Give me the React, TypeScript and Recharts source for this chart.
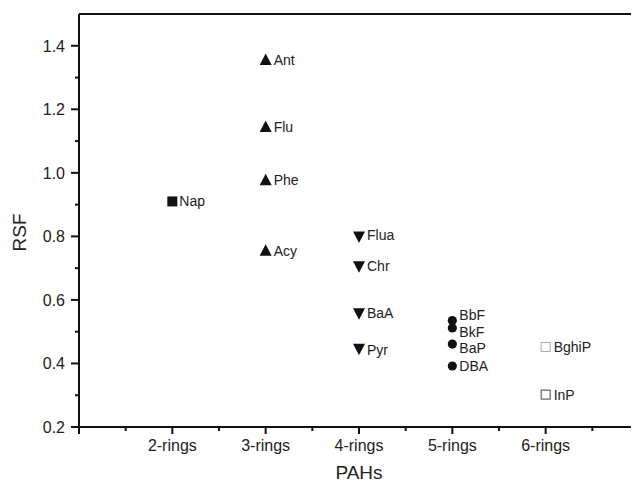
import { ScatterChart, Scatter, XAxis, YAxis, ReferenceLine, Label } from 'recharts';

const categories = ['2-rings', '3-rings', '4-rings', '5-rings', '6-rings'];

const twoRingNames = ['Nap'];
const twoRingRsf = [0.91];

const threeRingNames = ['Ant', 'Flu', 'Phe', 'Acy'];
const threeRingRsf = [1.355, 1.144, 0.977, 0.755];

const fourRingNames = ['Flua', 'Chr', 'BaA', 'Pyr'];
const fourRingRsf = [0.8, 0.706, 0.558, 0.446];

const fiveRingNames = ['BbF', 'BkF', 'BaP', 'DBA'];
const fiveRingRsf = [0.535, 0.512, 0.461, 0.392];

const sixRingNames = ['BghiP', 'InP'];
const sixRingRsf = [0.452, 0.302];

const xTicks = [1, 1.5, 2, 2.5, 3, 3.5, 4, 4.5, 5, 5.5, 6, 6.5, 7];
const yTicks = [0.2, 0.3, 0.4, 0.5, 0.6, 0.7, 0.8, 0.9, 1.0, 1.1, 1.2, 1.3, 1.4];

const build = (pos: number, names: string[], vals: number[]) =>
  names.map((name, i) => ({ x: pos, y: vals[i], name }));

const FONT = '"Liberation Sans", Arial, sans-serif';
const INK = '#111';
const TXT = '#222';

// small label nudges where points crowd together
const labelDy: Record<string, number> = { BbF: -6, BkF: 4, BaP: 4, Flua: -1, Pyr: 1 };

function PointLabel({ x, y, name }: { x: number; y: number; name: string }) {
  return (
    <text x={x} y={y + 5 + (labelDy[name] || 0)} fontSize={14} fontFamily={FONT} fill={TXT}>
      {name}
    </text>
  );
}

const squareShape = (p: any) => (
  <g>
    <rect x={p.cx - 5} y={p.cy - 5} width={10} height={10} fill={INK} />
    <PointLabel x={p.cx + 7} y={p.cy} name={p.payload.name} />
  </g>
);

const triUpShape = (p: any) => (
  <g>
    <path d={`M${p.cx},${p.cy - 6.5} L${p.cx + 6},${p.cy + 5} L${p.cx - 6},${p.cy + 5} Z`} fill={INK} />
    <PointLabel x={p.cx + 8} y={p.cy} name={p.payload.name} />
  </g>
);

const triDownShape = (p: any) => (
  <g>
    <path d={`M${p.cx - 6},${p.cy - 5} L${p.cx + 6},${p.cy - 5} L${p.cx},${p.cy + 6.5} Z`} fill={INK} />
    <PointLabel x={p.cx + 8} y={p.cy} name={p.payload.name} />
  </g>
);

const circleShape = (p: any) => (
  <g>
    <circle cx={p.cx} cy={p.cy} r={4.6} fill={INK} />
    <PointLabel x={p.cx + 7} y={p.cy} name={p.payload.name} />
  </g>
);

const hollowShape = (p: any) => (
  <g>
    <rect
      x={p.cx - 4.5}
      y={p.cy - 4.5}
      width={9}
      height={9}
      fill="#fff"
      stroke={p.payload.name === 'BghiP' ? '#aaa' : '#444'}
      strokeWidth={1}
    />
    <PointLabel x={p.cx + 8} y={p.cy} name={p.payload.name} />
  </g>
);

function XTick({ x, y, payload }: any) {
  const v = payload.value;
  const major = Number.isInteger(v);
  const idx = v - 2;
  return (
    <g>
      <line x1={x} x2={x} y1={y} y2={y + (major ? 7 : 4)} stroke={INK} strokeWidth={2} />
      {major && idx >= 0 && idx < categories.length && (
        <text x={x} y={y + 24} textAnchor="middle" fontSize={16} fontFamily={FONT} fill={TXT}>
          {categories[idx]}
        </text>
      )}
    </g>
  );
}

function YTick({ x, y, payload }: any) {
  const v = payload.value;
  const major = Math.round(v * 10) % 2 === 0;
  return (
    <g>
      <line x1={x} x2={x - (major ? 8 : 4)} y1={y} y2={y} stroke={INK} strokeWidth={2} />
      {major && (
        <text x={x - 14} y={y + 6} textAnchor="end" fontSize={16} fontFamily={FONT} fill={TXT}>
          {v.toFixed(1)}
        </text>
      )}
    </g>
  );
}

export default function App() {
  return (
    <div style={{ width: 631, height: 476, background: '#fff' }}>
      <ScatterChart width={631} height={476} margin={{ top: 6, right: 0, bottom: 0, left: 0 }}>
        <XAxis
          type="number"
          dataKey="x"
          domain={[1, 7]}
          ticks={xTicks}
          interval={0}
          tick={<XTick />}
          tickLine={false}
          tickSize={0}
          tickMargin={0}
          height={57}
          axisLine={{ stroke: INK, strokeWidth: 2 }}
          allowDataOverflow
        >
          <Label
            content={({ viewBox }: any) => (
              <text
                x={viewBox.x + viewBox.width / 2}
                y={viewBox.y + 52}
                textAnchor="middle"
                fontSize={19}
                fontFamily={FONT}
                fill={TXT}
              >
                PAHs
              </text>
            )}
          />
        </XAxis>
        <YAxis
          type="number"
          dataKey="y"
          domain={[0.2, 1.5]}
          ticks={yTicks}
          interval={0}
          tick={<YTick />}
          tickLine={false}
          tickSize={0}
          tickMargin={0}
          width={71}
          axisLine={{ stroke: INK, strokeWidth: 2 }}
          allowDataOverflow
        >
          <Label
            content={({ viewBox }: any) => {
              const cx = viewBox.x + 11;
              const cy = viewBox.y + viewBox.height / 2 + 12;
              return (
                <text
                  x={cx}
                  y={cy}
                  transform={`rotate(-90, ${cx}, ${cy})`}
                  textAnchor="middle"
                  dominantBaseline="central"
                  fontSize={19}
                  fontFamily={FONT}
                  fill={TXT}
                >
                  RSF
                </text>
              );
            }}
          />
        </YAxis>
        <ReferenceLine y={1.5} stroke={INK} strokeWidth={2} />
        <Scatter data={build(2, twoRingNames, twoRingRsf)} shape={squareShape} isAnimationActive={false} />
        <Scatter data={build(3, threeRingNames, threeRingRsf)} shape={triUpShape} isAnimationActive={false} />
        <Scatter data={build(4, fourRingNames, fourRingRsf)} shape={triDownShape} isAnimationActive={false} />
        <Scatter data={build(5, fiveRingNames, fiveRingRsf)} shape={circleShape} isAnimationActive={false} />
        <Scatter data={build(6, sixRingNames, sixRingRsf)} shape={hollowShape} isAnimationActive={false} />
      </ScatterChart>
    </div>
  );
}
